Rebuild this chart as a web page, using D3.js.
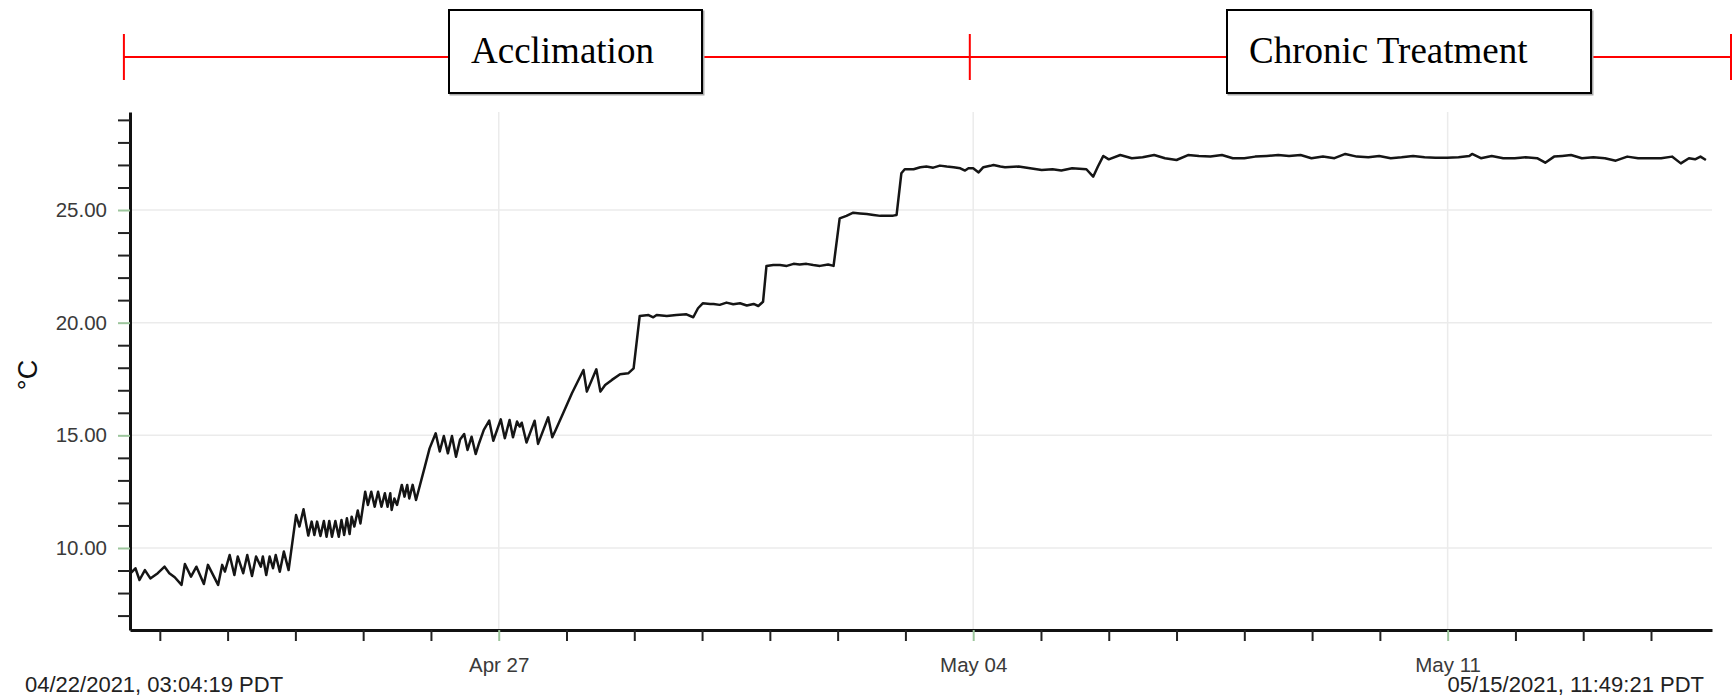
<!DOCTYPE html>
<html>
<head>
<meta charset="utf-8">
<script src="https://cdn.jsdelivr.net/npm/d3@7"></script>
<style>
  body { margin: 0; background: #fff; }
  svg { display: block; }
</style>
</head>
<body>
<div id="main"></div>
<script>
const ctx = {
    w: 1733,
    h: 699
};
const plot = { left: 130, right: 1712, top: 112, bottom: 630 };

// all readings are [days since Apr 22 2021 00:00, °C]
const day0 = new Date(2021, 3, 22);
const xDomainDays = [-0.44, 22.9];
const yDomain = [6.36, 29.35];

const acclimationTemps = [
    [-0.43, 8.88], [-0.36, 9.10], [-0.30, 8.58], [-0.22, 9.02], [-0.14, 8.65], [-0.03, 8.88],
    [0.07, 9.17], [0.14, 8.88], [0.22, 8.70], [0.32, 8.36], [0.37, 9.29], [0.46, 8.73],
    [0.54, 9.17], [0.65, 8.40], [0.71, 9.25], [0.86, 8.36], [0.92, 9.25], [0.96, 8.95],
    [1.03, 9.69], [1.10, 8.80], [1.15, 9.62], [1.23, 8.88], [1.29, 9.69], [1.36, 8.76],
    [1.42, 9.62], [1.49, 9.17], [1.52, 9.62], [1.57, 8.80], [1.62, 9.62], [1.67, 9.10],
    [1.71, 9.69], [1.77, 8.95], [1.83, 9.84], [1.90, 9.02], [2.01, 11.46], [2.06, 10.95],
    [2.12, 11.72], [2.19, 10.55], [2.24, 11.17], [2.28, 10.58], [2.32, 11.17], [2.37, 10.53],
    [2.42, 11.20], [2.46, 10.50], [2.50, 11.20], [2.54, 10.50], [2.59, 11.20], [2.64, 10.50],
    [2.68, 11.24], [2.72, 10.58], [2.76, 11.32], [2.80, 10.62], [2.83, 11.39], [2.87, 10.95],
    [2.92, 11.66], [2.96, 11.09], [3.03, 12.50], [3.07, 11.91], [3.12, 12.50], [3.17, 11.83],
    [3.22, 12.50], [3.27, 11.83], [3.32, 12.43], [3.36, 11.83], [3.40, 12.43], [3.42, 11.69],
    [3.46, 12.20], [3.50, 11.91], [3.57, 12.80], [3.61, 12.28], [3.65, 12.80], [3.68, 12.20],
    [3.73, 12.80], [3.78, 12.13], [3.91, 13.61], [3.98, 14.42], [4.07, 15.09], [4.13, 14.28],
    [4.19, 14.97], [4.25, 14.20], [4.31, 14.97], [4.37, 14.05], [4.43, 14.82], [4.49, 15.06],
    [4.54, 14.35], [4.60, 14.94], [4.66, 14.17], [4.71, 14.65], [4.78, 15.24], [4.86, 15.65],
    [4.92, 14.76], [5.03, 15.71], [5.09, 14.87], [5.16, 15.68], [5.21, 14.91], [5.27, 15.61],
    [5.31, 15.39], [5.34, 15.56], [5.41, 14.68], [5.53, 15.65], [5.58, 14.62], [5.73, 15.80],
    [5.79, 14.91], [5.84, 15.24], [5.95, 15.98], [6.08, 16.87], [6.25, 17.90], [6.30, 16.94],
    [6.44, 17.93], [6.50, 16.94], [6.57, 17.23], [6.67, 17.46], [6.79, 17.71], [6.91, 17.75],
    [6.99, 17.97], [7.08, 20.30], [7.21, 20.34], [7.28, 20.24], [7.33, 20.34], [7.48, 20.30],
    [7.62, 20.34], [7.77, 20.37], [7.87, 20.24], [7.94, 20.64], [8.01, 20.86], [8.12, 20.83],
    [8.17, 20.83], [8.26, 20.79], [8.36, 20.89], [8.46, 20.82], [8.56, 20.86], [8.66, 20.76],
    [8.76, 20.83], [8.83, 20.74], [8.90, 20.93], [8.95, 22.52], [9.05, 22.56], [9.15, 22.56],
    [9.25, 22.52], [9.35, 22.61], [9.44, 22.58], [9.54, 22.61], [9.64, 22.56], [9.74, 22.52],
    [9.86, 22.58], [9.94, 22.52], [10.03, 24.63], [10.13, 24.74], [10.23, 24.88], [10.33, 24.85],
    [10.43, 24.82], [10.53, 24.78], [10.63, 24.74], [10.72, 24.75], [10.82, 24.75], [10.87, 24.78],
    [10.94, 26.63], [10.99, 26.81], [11.12, 26.81], [11.22, 26.90], [11.31, 26.93], [11.41, 26.88],
    [11.51, 26.97], [11.61, 26.93], [11.71, 26.90], [11.81, 26.85], [11.88, 26.75], [11.93, 26.85]
];

const chronicTemps = [
    [12.00, 26.85], [12.08, 26.67], [12.15, 26.90], [12.25, 26.96], [12.30, 27.00], [12.40, 26.93],
    [12.47, 26.90], [12.67, 26.93], [12.84, 26.85], [13.01, 26.78], [13.17, 26.81], [13.30, 26.75],
    [13.46, 26.85], [13.67, 26.81], [13.77, 26.48], [13.84, 26.93], [13.92, 27.40], [14.00, 27.25],
    [14.17, 27.44], [14.34, 27.30], [14.50, 27.34], [14.67, 27.44], [14.83, 27.30], [15.00, 27.22],
    [15.17, 27.44], [15.33, 27.40], [15.50, 27.37], [15.67, 27.44], [15.83, 27.30], [16.00, 27.30],
    [16.16, 27.37], [16.33, 27.40], [16.50, 27.44], [16.66, 27.40], [16.83, 27.44], [16.99, 27.30],
    [17.16, 27.37], [17.33, 27.30], [17.49, 27.49], [17.66, 27.37], [17.83, 27.34], [17.99, 27.40],
    [18.16, 27.30], [18.32, 27.34], [18.49, 27.40], [18.66, 27.34], [18.82, 27.32], [18.99, 27.32],
    [19.16, 27.34], [19.32, 27.40], [19.36, 27.49], [19.49, 27.30], [19.65, 27.40], [19.82, 27.30],
    [19.99, 27.30], [20.15, 27.34], [20.32, 27.30], [20.44, 27.10], [20.57, 27.37], [20.69, 27.40],
    [20.82, 27.44], [20.98, 27.30], [21.15, 27.34], [21.32, 27.30], [21.48, 27.19], [21.65, 27.37],
    [21.81, 27.30], [21.98, 27.30], [22.15, 27.30], [22.31, 27.37], [22.44, 27.07], [22.56, 27.30],
    [22.65, 27.25], [22.73, 27.37], [22.81, 27.22]
];

const yTicks = [7, 8, 9, 10, 11, 12, 13, 14, 15, 16, 17, 18, 19, 20, 21, 22, 23, 24, 25, 26, 27, 28, 29];
const yLabelTicks = [10, 15, 20, 25];
const xLabelTicks = ["2021-04-27", "2021-05-04", "2021-05-11"];
const startLabel = "04/22/2021, 03:04:19 PDT";
const endLabel = "05/15/2021, 11:49:21 PDT";

const phaseNames = ["Acclimation", "Chronic Treatment"];
const phaseBounds = [-0.53, 11.95, 23.18];   // days, where the red bracket ticks sit

// box layout for the phase labels (pixels)
const boxLayout = [{ x: 449, w: 253 }, { x: 1227, w: 364 }];

const dayToDate = d => new Date(day0.getTime() + d * 864e5);
const parseDay = d3.timeParse("%Y-%m-%d");
const sansFont = "'Liberation Sans', Arial, sans-serif";

function createViz() {
    console.log("Using D3 v" + d3.version);
    const svg = d3.select("#main").append("svg")
        .attr("width", ctx.w)
        .attr("height", ctx.h);

    const x = d3.scaleTime()
        .domain(xDomainDays.map(dayToDate))
        .range([plot.left, plot.right]);
    const y = d3.scaleLinear()
        .domain(yDomain)
        .range([plot.bottom, plot.top]);

    const labelDates = xLabelTicks.map(parseDay);
    const isLabelDate = d => labelDates.some(l => +l === +d);
    const dayTicks = d3.timeDay.range(dayToDate(0), dayToDate(23));

    // grid
    const grid = svg.append("g").attr("id", "grid");
    grid.selectAll("line.h")
        .data(yLabelTicks)
        .enter().append("line")
        .attr("x1", plot.left).attr("x2", plot.right)
        .attr("y1", d => y(d)).attr("y2", d => y(d))
        .attr("stroke", "#ebebeb").attr("stroke-width", 1.5);
    grid.selectAll("line.v")
        .data(labelDates)
        .enter().append("line")
        .attr("x1", d => x(d)).attr("x2", d => x(d))
        .attr("y1", plot.top).attr("y2", plot.bottom)
        .attr("stroke", "#ebebeb").attr("stroke-width", 1.5);

    // temperature trace
    const line = d3.line()
        .x(d => x(dayToDate(d[0])))
        .y(d => y(d[1]));
    svg.append("path")
        .datum(acclimationTemps.concat(chronicTemps))
        .attr("d", line)
        .attr("fill", "none")
        .attr("stroke", "#151515")
        .attr("stroke-width", 2.5)
        .attr("stroke-linejoin", "round");

    // axes
    const yAxis = svg.append("g")
        .attr("transform", `translate(${plot.left},0)`)
        .call(d3.axisLeft(y)
            .tickValues(yTicks)
            .tickSize(12)
            .tickSizeOuter(0)
            .tickPadding(11)
            .tickFormat(d => yLabelTicks.includes(d) ? d.toFixed(2) : ""));

    const xAxis = svg.append("g")
        .attr("transform", `translate(0,${plot.bottom})`)
        .call(d3.axisBottom(x)
            .tickValues(dayTicks)
            .tickSize(11)
            .tickSizeOuter(0)
            .tickPadding(16)
            .tickFormat(d => isLabelDate(d) ? d3.timeFormat("%b %d")(d) : ""));

    [yAxis, xAxis].forEach(ax => {
        ax.select(".domain").attr("stroke", "#111").attr("stroke-width", 3);
        ax.selectAll(".tick line").attr("stroke", "#222").attr("stroke-width", 2);
        ax.selectAll(".tick text")
            .style("font-family", sansFont)
            .style("font-size", "20.5px")
            .attr("fill", "#3a3a3a");
    });
    yAxis.selectAll(".tick line")
        .filter(d => yLabelTicks.includes(d))
        .attr("stroke", "#9cc59c");
    xAxis.selectAll(".tick line")
        .filter(d => isLabelDate(d))
        .attr("stroke", "#9cc59c");

    svg.append("text")
        .attr("transform", `translate(37,${(plot.top + plot.bottom) / 2 + 4}) rotate(-90)`)
        .attr("text-anchor", "middle")
        .style("font-family", sansFont)
        .style("font-size", "27px")
        .attr("fill", "#111")
        .text("°C");

    // start / end of record
    svg.append("text")
        .attr("x", 25).attr("y", 692)
        .style("font-family", sansFont)
        .style("font-size", "22px")
        .attr("fill", "#222")
        .text(startLabel);
    svg.append("text")
        .attr("x", 1704).attr("y", 692)
        .attr("text-anchor", "end")
        .style("font-family", sansFont)
        .style("font-size", "22px")
        .attr("fill", "#222")
        .text(endLabel);

    // phase bracket
    const bracket = svg.append("g").attr("id", "phases");
    const bracketY = 57;
    bracket.append("line")
        .attr("x1", x(dayToDate(phaseBounds[0])))
        .attr("x2", x(dayToDate(phaseBounds[2])))
        .attr("y1", bracketY).attr("y2", bracketY)
        .attr("stroke", "#ff0000").attr("stroke-width", 2);
    bracket.selectAll("line.tick")
        .data(phaseBounds)
        .enter().append("line")
        .attr("x1", d => x(dayToDate(d))).attr("x2", d => x(dayToDate(d)))
        .attr("y1", 34).attr("y2", 80)
        .attr("stroke", "#ff0000").attr("stroke-width", 2);

    phaseNames.forEach((name, i) => {
        const b = boxLayout[i];
        // faint drop shadow like the pasted-in text boxes
        bracket.append("rect")
            .attr("x", b.x + 1.5).attr("y", 11.5)
            .attr("width", b.w).attr("height", 83)
            .attr("fill", "none")
            .attr("stroke", "#aaa").attr("stroke-width", 2);
        bracket.append("rect")
            .attr("x", b.x).attr("y", 10)
            .attr("width", b.w).attr("height", 83)
            .attr("fill", "#fff")
            .attr("stroke", "#000").attr("stroke-width", 2);
        bracket.append("text")
            .attr("x", b.x + 22).attr("y", 63)
            .style("font-family", "'Liberation Serif', 'Times New Roman', serif")
            .style("font-size", "37px")
            .attr("fill", "#000")
            .text(name);
    });
}

createViz();
</script>
</body>
</html>
